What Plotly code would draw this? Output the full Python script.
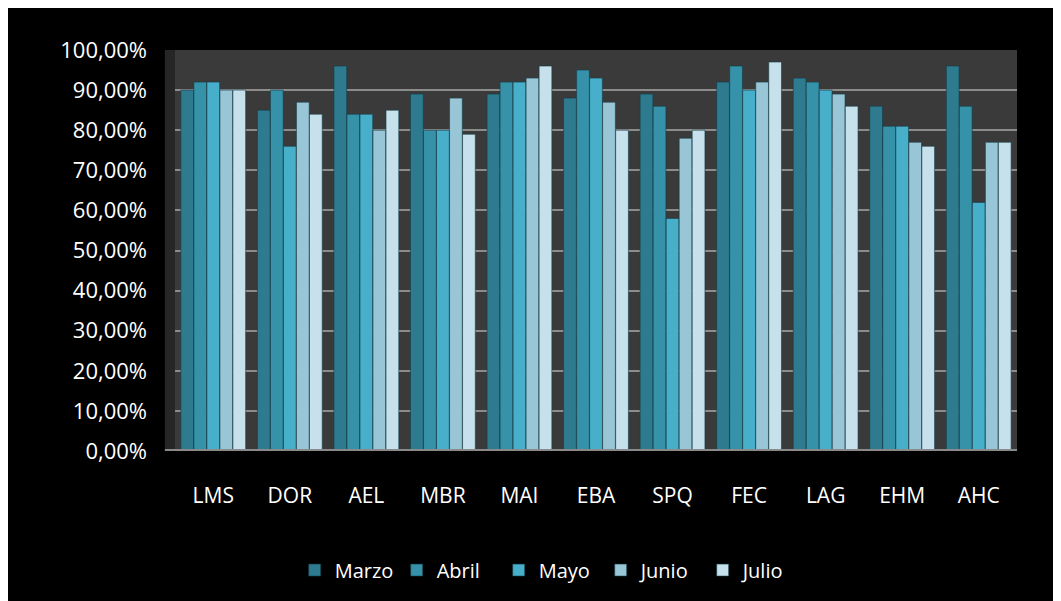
import plotly.graph_objects as go

# Categories and monthly values (fractions)
categorias = ["LMS", "DOR", "AEL", "MBR", "MAI", "EBA", "SPQ", "FEC", "LAG", "EHM", "AHC"]
marzo = [0.90, 0.85, 0.96, 0.89, 0.89, 0.88, 0.89, 0.92, 0.93, 0.86, 0.96]
abril = [0.92, 0.90, 0.84, 0.80, 0.92, 0.95, 0.86, 0.96, 0.92, 0.81, 0.86]
mayo = [0.92, 0.76, 0.84, 0.80, 0.92, 0.93, 0.58, 0.90, 0.90, 0.81, 0.62]
junio = [0.90, 0.87, 0.80, 0.88, 0.93, 0.87, 0.78, 0.92, 0.89, 0.77, 0.77]
julio = [0.90, 0.84, 0.85, 0.79, 0.96, 0.80, 0.80, 0.97, 0.86, 0.76, 0.77]

series = [
    ("Marzo", marzo, "#2e7b8f"),
    ("Abril", abril, "#3692a9"),
    ("Mayo", mayo, "#47afca"),
    ("Junio", junio, "#98c6d7"),
    ("Julio", julio, "#c6e1eb"),
]

fig = go.Figure()
for nombre, valores, color in series:
    fig.add_trace(go.Bar(
        x=categorias, y=valores, name=nombre,
        marker=dict(color=color, line=dict(color="rgba(20,60,70,0.6)", width=1)),
    ))

# darker side wall on the left of the back wall
fig.add_shape(type="rect", xref="paper", yref="paper", x0=-0.012, x1=0, y0=0.0, y1=1.0,
              fillcolor="#262626", line_width=0, layer="below")
# floor line
fig.add_shape(type="line", xref="paper", yref="y", x0=-0.012, x1=1.0, y0=0, y1=0,
              line=dict(color="#8a8a8a", width=4))

fig.update_layout(
    width=1061, height=601,
    margin=dict(l=167, r=52, t=42, b=158),
    paper_bgcolor="black", plot_bgcolor="#3a3a3a",
    separators=", ",
    barmode="group", bargap=0.15, bargroupgap=0.02,
    font=dict(family="Open Sans", size=20, color="white"),
    legend=dict(orientation="h", x=0.445, xanchor="center", y=-0.297, yanchor="middle",
                font=dict(size=20, color="white"), itemwidth=30, traceorder="normal",
                entrywidth=57, entrywidthmode="pixels"),
    showlegend=True,
)
fig.update_yaxes(range=[0, 1], dtick=0.1, tickformat=".2%", showgrid=True,
                 gridcolor="#8c8c8c", gridwidth=2, zeroline=False,
                 ticks="", ticklabelstandoff=27, tickfont=dict(size=22, color="white"))
fig.update_xaxes(showgrid=False, ticks="", ticklabelstandoff=30,
                 tickfont=dict(size=21, color="white"))

fig.write_html("out.html")
